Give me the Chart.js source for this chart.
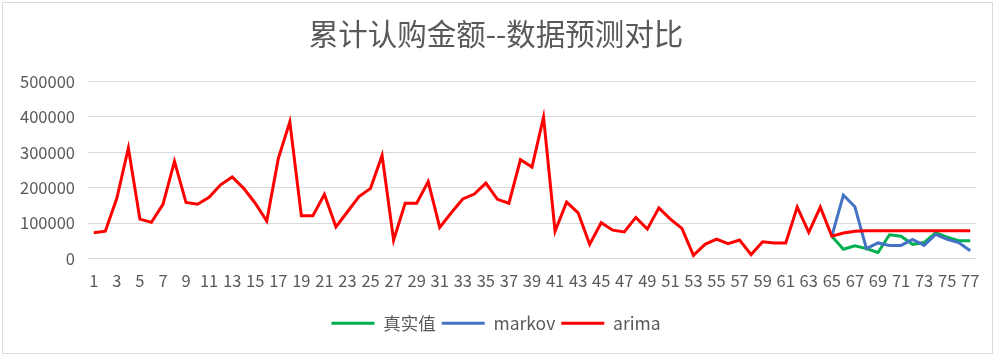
<!DOCTYPE html>
<html>
<head>
<meta charset="utf-8">
<script src="https://cdn.jsdelivr.net/npm/chart.js@4/dist/chart.umd.min.js"></script>
<style>
  html, body { margin: 0; padding: 0; background: #ffffff; }
  #wrap { width: 1000px; height: 357px; position: relative; }
</style>
</head>
<body>
<div id="wrap"><canvas id="forecastChart"></canvas></div>
<script>
// 累计认购金额 -- 数据预测对比

const periods = [
    1, 2, 3, 4, 5, 6, 7, 8, 9, 10, 11, 12, 13, 14, 15, 16, 17, 18, 19, 20,
    21, 22, 23, 24, 25, 26, 27, 28, 29, 30, 31, 32, 33, 34, 35, 36, 37, 38, 39, 40,
    41, 42, 43, 44, 45, 46, 47, 48, 49, 50, 51, 52, 53, 54, 55, 56, 57, 58, 59, 60,
    61, 62, 63, 64, 65, 66, 67, 68, 69, 70, 71, 72, 73, 74, 75, 76, 77
];

// 显示的刻度 (隔一个显示)
const shownTicks = [
    1, 3, 5, 7, 9, 11, 13, 15, 17, 19, 21, 23, 25, 27, 29, 31, 33, 35, 37, 39,
    41, 43, 45, 47, 49, 51, 53, 55, 57, 59, 61, 63, 65, 67, 69, 71, 73, 75, 77
];

const yTicks = [0, 100000, 200000, 300000, 400000, 500000];

const arimaValues = [
    73000, 77000, 170000, 312000, 111000, 102000, 153000, 274000, 158000, 153000,
    173000, 208000, 230000, 198000, 156000, 106000, 282000, 386000, 121000, 121000,
    181000, 89000, 132000, 175000, 198000, 291000, 52000, 156000, 156000, 217000,
    88000, 129000, 168000, 182000, 213000, 167000, 156000, 279000, 258000, 399000,
    77000, 159000, 129000, 40000, 101000, 80000, 75000, 116000, 83000, 143000,
    111000, 85000, 9000, 40000, 55000, 42000, 52000, 11000, 47000, 44000,
    44000, 145000, 74000, 145000, 63000, 72000, 77000, 78000, 78000, 78000,
    78000, 78000, 78000, 78000, 78000, 78000, 78000
];

// 真实值 / markov 只从第65期开始
const firstForecast = 65;
const realTail = [63000, 26000, 36000, 28000, 17000, 67000, 63000, 40000, 45000, 73000, 60000, 50000, 50000];
const markovTail = [63000, 179000, 146000, 28000, 44000, 37000, 37000, 54000, 37000, 68000, 54000, 45000, 22000];

const realValues = Array(firstForecast - 1).fill(null).concat(realTail);
const markovValues = Array(firstForecast - 1).fill(null).concat(markovTail);

const TEXT_COLOR = '#595959';
const GRID_COLOR = '#d9d9d9';
const FONT = '"Noto Sans CJK SC", "Noto Sans", sans-serif';

// 外框
const frameBorder = {
    id: 'frameBorder',
    afterDraw(chart) {
        const c = chart.ctx;
        c.save();
        c.strokeStyle = GRID_COLOR;
        c.lineWidth = 1;
        c.strokeRect(2.5, 2.5, 990, 351);
        c.restore();
    }
};

Chart.defaults.font.family = FONT;
Chart.defaults.color = TEXT_COLOR;

function makeLine(label, data, color, order) {
    return {
        label: label,
        data: data,
        borderColor: color,
        backgroundColor: color,
        borderWidth: 3,
        pointRadius: 0,
        pointHoverRadius: 0,
        tension: 0,
        fill: false,
        order: order
    };
}

new Chart(document.getElementById('forecastChart'), {
    type: 'line',
    data: {
        labels: periods,
        datasets: [
            makeLine('真实值', realValues, '#00b050', 3),
            makeLine('markov', markovValues, '#4472c4', 2),
            makeLine('arima', arimaValues, '#ff0000', 1)
        ]
    },
    options: {
        responsive: true,
        maintainAspectRatio: false,
        animation: false,
        layout: {
            padding: { left: 16, right: 24, top: 0, bottom: 15 }
        },
        plugins: {
            title: {
                display: true,
                text: '累计认购金额--数据预测对比',
                color: TEXT_COLOR,
                font: { size: 29.5, weight: 'normal' },
                padding: { top: 16, bottom: 30 }
            },
            legend: {
                position: 'bottom',
                labels: {
                    usePointStyle: true,
                    pointStyle: 'line',
                    pointStyleWidth: 43,
                    color: TEXT_COLOR,
                    font: { size: 17.5 },
                    padding: 6,
                    sort: (a, b) => a.datasetIndex - b.datasetIndex
                }
            },
            tooltip: { enabled: false }
        },
        scales: {
            x: {
                type: 'linear',
                min: 0.5,
                max: 77.5,
                grid: { display: false },
                border: { display: false },
                afterBuildTicks: (axis) => {
                    axis.ticks = shownTicks.map(v => ({ value: v }));
                },
                afterFit: (axis) => {
                    axis.height = 50;
                },
                ticks: {
                    autoSkip: false,
                    maxRotation: 0,
                    padding: 4.5,
                    color: TEXT_COLOR,
                    font: { size: 16.5 },
                    callback: (value) => String(value)
                }
            },
            y: {
                min: yTicks[0],
                max: yTicks[yTicks.length - 1],
                afterBuildTicks: (axis) => {
                    axis.ticks = yTicks.map(v => ({ value: v }));
                },
                afterFit: (axis) => {
                    axis.width = 72;
                },
                grid: { color: GRID_COLOR, lineWidth: 1, drawTicks: false },
                border: { display: false },
                ticks: {
                    padding: 13,
                    color: TEXT_COLOR,
                    font: { size: 16.5 },
                    callback: (value) => String(value)
                }
            }
        }
    },
    plugins: [frameBorder]
});
</script>
</body>
</html>
